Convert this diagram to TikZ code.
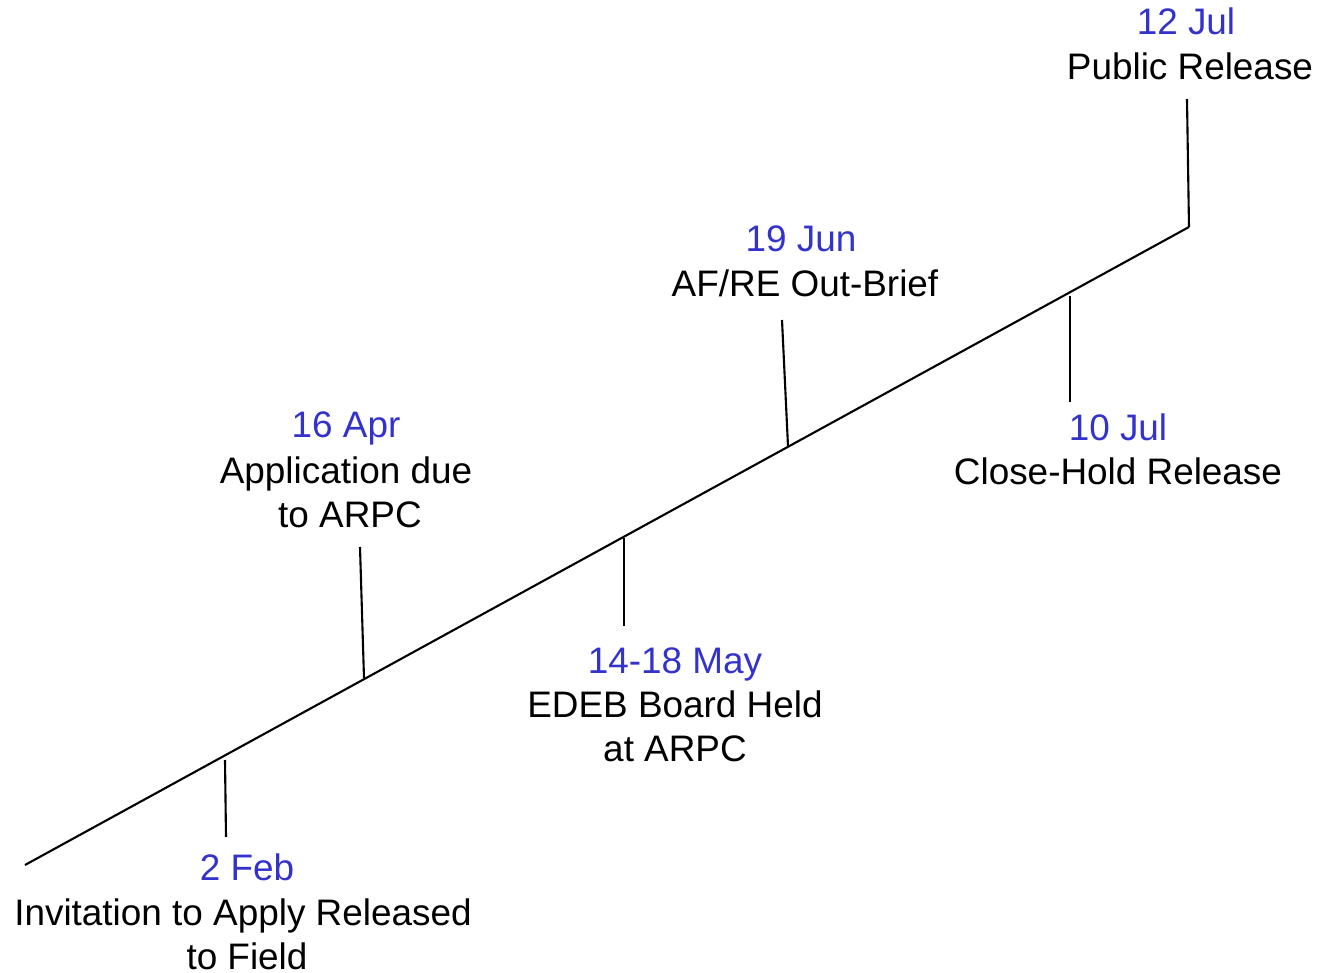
\documentclass[tikz,border=0pt]{standalone}
\usepackage{fontspec}
\setmainfont{Liberation Sans}
\definecolor{dateblue}{RGB}{51,51,204}
\begin{document}
\begin{tikzpicture}[x=0.02cm,y=-0.02cm,
  lbl/.style={anchor=base,inner sep=0pt,font=\fontsize{21}{25}\selectfont},
  dt/.style={lbl,text=dateblue},
  axis/.style={line width=1.2pt,black},
  tick/.style={line width=1.2pt,black}]
\useasboundingbox (0,0) rectangle (1320,973);
% main timeline
\coordinate (s) at (25,865);
\coordinate (e) at (1189,227);
\draw[axis] (s) -- (e);
% ticks
\coordinate (a1) at (225,760); \coordinate (a2) at (226,837);
\coordinate (b1) at (364,678); \coordinate (b2) at (360,547);
\coordinate (c1) at (624,538); \coordinate (c2) at (624,626);
\coordinate (d1) at (788,446); \coordinate (d2) at (782,320);
\coordinate (f1) at (1070,296); \coordinate (f2) at (1070,402);
\coordinate (g2) at (1187,99);
\draw[tick] (a1) -- (a2);
\draw[tick] (b1) -- (b2);
\draw[tick] (c1) -- (c2);
\draw[tick] (d1) -- (d2);
\draw[tick] (f1) -- (f2);
\draw[tick] (e) -- (g2);
% labels
\node[dt] (la1) at (247,880) {2 Feb};
\node[lbl] (la2) at (243,925) {Invitation to Apply Released};
\node[lbl] (la3) at (247,969) {to Field};
\node[dt] (lb1) at (346,438) {16 Apr};
\node[lbl] (lb2) at (346,483) {Application due};
\node[lbl] (lb3) at (350,527) {to ARPC};
\node[dt] (lc1) at (675,673) {14-18 May};
\node[lbl] (lc2) at (675,717) {EDEB Board Held};
\node[lbl] (lc3) at (675,761) {at ARPC};
\node[dt] (ld1) at (801,252) {19 Jun};
\node[lbl] (ld2) at (805,297) {AF/RE Out-Brief};
\node[dt] (lf1) at (1118,440) {10 Jul};
\node[lbl] (lf2) at (1118,485) {Close-Hold Release};
\node[dt] (lg1) at (1186,35) {12 Jul};
\node[lbl] (lg2) at (1190,80) {Public Release};
\end{tikzpicture}
\end{document}
